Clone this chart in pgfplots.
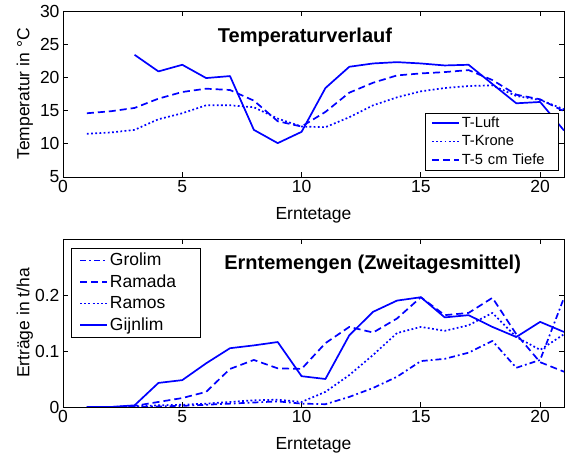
\documentclass[border=0pt]{standalone}
\usepackage{fontspec}
\setmainfont{Liberation Sans}
\usepackage{pgfplots}
\pgfplotsset{compat=1.18}
\definecolor{mblue}{RGB}{0,0,255}

\pgfplotsset{
  mlab/.style={
    scale only axis, width=501pt,
    xmin=0, xmax=21, xtick={0,5,...,20},
    tick align=inside, major tick length=5pt,
    /pgf/number format/assume math mode=true,
    every tick label/.append style={font=\fontsize{17.5}{20}\selectfont},
    label style={font=\fontsize{17.5}{20}\selectfont},
    axis line style={black, line width=0.9pt},
    every tick/.style={black, line width=0.9pt},
    xlabel style={at={(axis description cs:0.5,0)}, anchor=center, yshift=-38pt},
    ylabel style={at={(axis description cs:-0.076,0.5)}, anchor=center},
    legend image post style={xscale=1.58, line width=1.7pt},
    legend cell align=left,
  },
}

\begin{document}
\begin{tikzpicture}
\path[use as bounding box] (0,0) rectangle (565pt,454pt);

% Temperaturen
\begin{axis}[mlab,
  at={(63pt,277pt)}, anchor=south west, height=166pt,
  ymin=5, ymax=30, ytick={5,10,...,30},
  xlabel={Erntetage}, ylabel={Temperatur in °C},
  legend style={at={(0.988,0.042)}, anchor=south east, draw=black,
    font=\fontsize{14.7}{16}\selectfont, inner xsep=6pt, inner ysep=2pt, row sep=2.5pt,
    /tikz/column 2/.style={text width=88pt}},
]
\addplot[color=mblue, line width=1.7pt, line join=round, solid] coordinates {
(3,23.4) (4,20.9) (5,21.9) (6,19.9) (7,20.2) (8,12.1) (9,10.1) (10,11.8)
(11,18.4) (12,21.6) (13,22.1) (14,22.3) (15,22.1) (16,21.8) (17,21.9)
(18,19.0) (19,16.1) (20,16.3) (21,12.0)};
\addlegendentry{T-Luft}
\addplot[color=mblue, line width=1.7pt, line join=round, dash pattern=on 1.8pt off 2.4pt] coordinates {
(1,11.5) (2,11.7) (3,12.1) (4,13.7) (5,14.6) (6,15.8) (7,15.8) (8,15.5)
(9,13.8) (10,12.6) (11,12.5) (12,14.0) (13,15.8) (14,17.0) (15,17.9)
(16,18.4) (17,18.7) (18,18.8) (19,17.2) (20,16.6) (21,15.2)};
\addlegendentry{T-Krone}
\addplot[color=mblue, line width=1.7pt, line join=round, dash pattern=on 7pt off 4pt] coordinates {
(1,14.6) (2,14.9) (3,15.4) (4,16.8) (5,17.8) (6,18.3) (7,18.1) (8,16.5)
(9,13.4) (10,12.6) (11,14.8) (12,17.7) (13,19.2) (14,20.3) (15,20.6)
(16,20.8) (17,21.1) (18,19.6) (19,17.4) (20,16.7) (21,14.9)};
\addlegendentry{T-5 cm Tiefe}
\node[font=\bfseries\fontsize{20}{24}\selectfont] at (rel axis cs:0.483,0.84) {Temperaturverlauf};
\end{axis}

% Ertraege
\begin{axis}[mlab,
  at={(63pt,47pt)}, anchor=south west, height=168pt,
  ymin=0, ymax=0.3, ytick={0,0.1,0.2}, yticklabels={0,0.1,0.2},
  xlabel={Erntetage}, ylabel={Erträge in t/ha},
  legend style={at={(0.016,0.946)}, anchor=north west, draw=black,
    font=\fontsize{17.5}{19}\selectfont, inner xsep=8pt, inner ysep=3pt, row sep=3.5pt,
    /tikz/column 2/.style={text width=80pt}},
]
\addplot[color=mblue, line width=1.7pt, line join=round, dash pattern=on 6pt off 3pt on 1.8pt off 3pt] coordinates {
(1,0) (2,0) (3,0) (4,0.001) (5,0.002) (6,0.004) (7,0.006) (8,0.008) (9,0.010)
(10,0.006) (11,0.005) (12,0.018) (13,0.034) (14,0.054) (15,0.082) (16,0.086)
(17,0.097) (18,0.118) (19,0.070) (20,0.084) (21,0.195)};
\addlegendentry{Grolim}
\addplot[color=mblue, line width=1.7pt, line join=round, dash pattern=on 7pt off 4pt] coordinates {
(1,0) (2,0) (3,0.002) (4,0.009) (5,0.016) (6,0.027) (7,0.068) (8,0.084)
(9,0.069) (10,0.068) (11,0.114) (12,0.143) (13,0.133) (14,0.158) (15,0.196)
(16,0.164) (17,0.168) (18,0.195) (19,0.130) (20,0.080) (21,0.063)};
\addlegendentry{Ramada}
\addplot[color=mblue, line width=1.7pt, line join=round, dash pattern=on 1.8pt off 2.4pt] coordinates {
(1,0) (2,0) (3,0.001) (4,0.003) (5,0.004) (6,0.006) (7,0.009) (8,0.012)
(9,0.013) (10,0.009) (11,0.027) (12,0.057) (13,0.093) (14,0.132) (15,0.143)
(16,0.136) (17,0.146) (18,0.168) (19,0.125) (20,0.102) (21,0.130)};
\addlegendentry{Ramos}
\addplot[color=mblue, line width=1.7pt, line join=round, solid] coordinates {
(1,0) (2,0) (3,0.003) (4,0.043) (5,0.048) (6,0.078) (7,0.105) (8,0.110)
(9,0.116) (10,0.055) (11,0.050) (12,0.128) (13,0.170) (14,0.190) (15,0.196)
(16,0.160) (17,0.164) (18,0.143) (19,0.125) (20,0.152) (21,0.134)};
\addlegendentry{Gijnlim}
\node[font=\bfseries\fontsize{20}{24}\selectfont] at (rel axis cs:0.618,0.851) {Erntemengen (Zweitagesmittel)};
\end{axis}
\end{tikzpicture}
\end{document}
